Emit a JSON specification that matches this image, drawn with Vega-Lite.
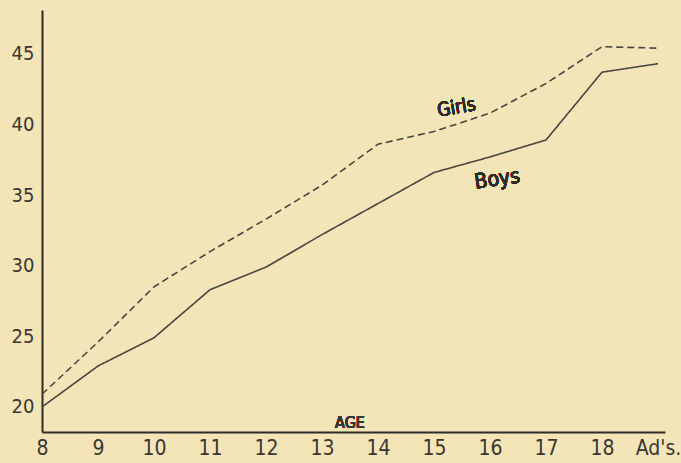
{
  "$schema": "https://vega.github.io/schema/vega-lite/v6.json",
  "width": 623,
  "height": 422,
  "autosize": "none",
  "padding": {"left": 42, "top": 10, "right": 16, "bottom": 31},
  "background": "#f3e5b8",
  "config": {
    "view": {"stroke": null},
    "font": "DejaVu Sans"
  },
  "data": {
    "values": [
      {"age": 8, "sex": "Boys", "value": 20.0},
      {"age": 9, "sex": "Boys", "value": 22.9},
      {"age": 10, "sex": "Boys", "value": 24.9},
      {"age": 11, "sex": "Boys", "value": 28.3},
      {"age": 12, "sex": "Boys", "value": 29.9},
      {"age": 13, "sex": "Boys", "value": 32.2},
      {"age": 14, "sex": "Boys", "value": 34.4},
      {"age": 15, "sex": "Boys", "value": 36.6},
      {"age": 16, "sex": "Boys", "value": 37.7},
      {"age": 17, "sex": "Boys", "value": 38.9},
      {"age": 18, "sex": "Boys", "value": 43.7},
      {"age": 19, "sex": "Boys", "value": 44.3},
      {"age": 8, "sex": "Girls", "value": 20.9},
      {"age": 9, "sex": "Girls", "value": 24.6},
      {"age": 10, "sex": "Girls", "value": 28.5},
      {"age": 11, "sex": "Girls", "value": 31.0},
      {"age": 12, "sex": "Girls", "value": 33.3},
      {"age": 13, "sex": "Girls", "value": 35.7},
      {"age": 14, "sex": "Girls", "value": 38.6},
      {"age": 15, "sex": "Girls", "value": 39.5},
      {"age": 16, "sex": "Girls", "value": 40.8},
      {"age": 17, "sex": "Girls", "value": 42.9},
      {"age": 18, "sex": "Girls", "value": 45.5},
      {"age": 19, "sex": "Girls", "value": 45.4}
    ]
  },
  "layer": [
    {
      "mark": {"type": "line", "color": "#4a4540", "strokeWidth": 1.6},
      "encoding": {
        "x": {
          "field": "age", "type": "quantitative",
          "scale": {"domain": [8, 19.125], "nice": false, "zero": false},
          "axis": {
            "title": null,
            "values": [8, 9, 10, 11, 12, 13, 14, 15, 16, 17, 18, 19],
            "labelExpr": "datum.value == 19 ? \"Ad's.\" : datum.value",
            "grid": false, "ticks": false,
            "domainColor": "#2e2b28", "domainWidth": 2,
            "labelFontSize": 21, "labelColor": "#3a3632",
            "labelFont": "DejaVu Sans Condensed, DejaVu Sans",
            "labelPadding": 5, "labelFlush": false
          }
        },
        "y": {
          "field": "value", "type": "quantitative",
          "scale": {"domain": [18.23, 48.1], "nice": false, "zero": false},
          "axis": {
            "title": null,
            "values": [20, 25, 30, 35, 40, 45],
            "grid": false, "ticks": false,
            "domainColor": "#2e2b28", "domainWidth": 2,
            "labelFontSize": 20, "labelColor": "#3a3632",
            "labelFont": "DejaVu Sans Condensed, DejaVu Sans",
            "labelPadding": 8
          }
        },
        "detail": {"field": "sex"},
        "strokeDash": {
          "field": "sex", "type": "nominal",
          "scale": {"domain": ["Boys", "Girls"], "range": [[1, 0], [7, 4]]},
          "legend": null
        }
      }
    },
    {
      "mark": {"type": "text", "text": "Girls", "fontSize": 19, "color": "#2e2b28", "angle": 350, "font": "DejaVu Sans Condensed, DejaVu Sans"},
      "encoding": {"x": {"datum": 15.4}, "y": {"datum": 41.2}}
    },
    {
      "mark": {"type": "text", "text": "Boys", "fontSize": 21, "color": "#2e2b28", "angle": 352, "font": "DejaVu Sans Condensed, DejaVu Sans"},
      "encoding": {"x": {"datum": 16.13}, "y": {"datum": 36.1}}
    },
    {
      "mark": {"type": "text", "text": "AGE", "fontSize": 16, "color": "#3a3632", "baseline": "bottom", "font": "DejaVu Sans Condensed, DejaVu Sans"},
      "encoding": {"x": {"datum": 13.5}, "y": {"datum": 18.3}}
    }
  ]
}
